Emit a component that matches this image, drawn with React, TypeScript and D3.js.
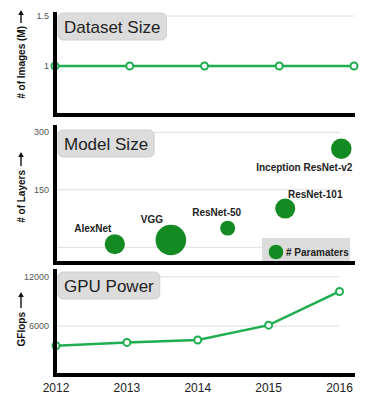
import React, { useEffect, useRef } from 'react';
import * as d3 from 'd3';

const years = [2012, 2013, 2014, 2015, 2016];
const datasetSize = [1, 1, 1, 1, 1];
const datasetTicks = [1, 1.5];
const models = ['AlexNet', 'VGG', 'ResNet-50', 'ResNet-101', 'Inception ResNet-v2'];
const modelYear = [2012.8, 2013.55, 2014.31, 2015.08, 2015.83];
const modelLayers = [8, 19, 50, 101, 257];
const modelParams = [60, 138, 33, 59, 62];
const layerTicks = [150, 300];
const layerGrid = [0, 150, 300];
const gpuGflops = [3600, 4000, 4300, 6100, 10200];
const gpuTicks = [6000, 12000];

// layout (not data)
const labelOffsets: [number, number][] = [[-22, -12], [-19, -17], [-11, -12], [30, -11], [-37, 22]];

const FONT = "'Liberation Sans', Arial, Helvetica, sans-serif";
const LINE = '#1fae4f';
const BUBBLE = '#148a22';

export default function App() {
  const ref = useRef<SVGSVGElement>(null);

  useEffect(() => {
    document.body.style.margin = '0';
    const svg = d3.select(ref.current);
    svg.selectAll('*').remove();
    svg.attr('font-family', FONT);

    const axisL = 55, axisR = 355;

    const x1 = d3.scaleLinear().domain([2012, 2016]).range([55, 354]);
    const y1 = d3.scaleLinear().domain([0.5, 1.5]).range([116, 16]);
    const y2 = d3.scaleLinear().domain([0, 300]).range([247.3, 132.3]);
    const r2 = d3.scaleSqrt().domain([0, 138]).range([0, 15.3]);
    const x3 = d3.scaleLinear().domain([2012, 2016]).range([56, 339.5]);
    const y3 = d3.scaleLinear().domain([0, 12000]).range([375.3, 276.7]);

    const grid = (vals: number[], y: d3.ScaleLinear<number, number>, x2: number) => {
      svg.append('g').selectAll('line').data(vals).join('line')
        .attr('x1', axisL).attr('x2', x2)
        .attr('y1', d => y(d)).attr('y2', d => y(d))
        .attr('stroke', '#dedede').attr('stroke-width', 1);
    };
    const ticks = (vals: number[], y: d3.ScaleLinear<number, number>) => {
      svg.append('g').selectAll('text').data(vals).join('text')
        .attr('x', 49).attr('y', d => y(d)).attr('dy', '0.35em')
        .attr('text-anchor', 'end').attr('font-size', 9).attr('fill', '#555')
        .text(d => String(d));
    };
    const title = (label: string, top: number) => {
      const g = svg.append('g');
      const rect = g.append('rect').attr('x', 58).attr('y', top).attr('height', 27)
        .attr('rx', 5).attr('fill', '#dcdcdc').attr('stroke', '#cfcfcf');
      const t = g.append('text').attr('x', 64).attr('y', top + 19.8)
        .attr('font-size', 17).attr('fill', '#222').text(label);
      const w = (t.node() as SVGTextElement).getComputedTextLength();
      rect.attr('width', w + 12);
    };
    const yLabel = (label: string, textEnd: number, arrowFrom: number, arrowTo: number) => {
      const cx = 21;
      svg.append('text')
        .attr('transform', `translate(${cx},${textEnd}) rotate(-90)`)
        .attr('text-anchor', 'start').attr('dy', '0.35em')
        .attr('font-size', 10).attr('font-weight', 'bold').attr('fill', '#111')
        .attr('text-anchor', 'end')
        .attr('x', 0)
        .text(label);
      // arrow
      svg.append('line').attr('x1', cx).attr('x2', cx).attr('y1', arrowFrom).attr('y2', arrowTo + 4)
        .attr('stroke', '#111').attr('stroke-width', 1.4);
      svg.append('path')
        .attr('d', `M${cx - 2.8},${arrowTo + 5} L${cx},${arrowTo} L${cx + 2.8},${arrowTo + 5} Z`)
        .attr('fill', '#111');
    };
    const axes = (top: number, bottom: number) => {
      svg.append('line').attr('x1', axisL).attr('x2', axisL).attr('y1', top).attr('y2', bottom + 2)
        .attr('stroke', '#000').attr('stroke-width', 4);
      svg.append('line').attr('x1', axisL - 2).attr('x2', axisR).attr('y1', bottom).attr('y2', bottom)
        .attr('stroke', '#000').attr('stroke-width', 4);
    };

    // ---------- Panel 1: Dataset Size ----------
    grid([1.5, 1], y1, 354);
    ticks(datasetTicks, y1);
    title('Dataset Size', 13);
    yLabel('# of Images (M)', 26, 23, 10);
    const line1 = d3.line<number>().x((_, i) => x1(years[i])).y(d => y1(d));
    svg.append('path').datum(datasetSize).attr('d', line1)
      .attr('fill', 'none').attr('stroke', LINE).attr('stroke-width', 2.5);
    svg.append('g').selectAll('circle').data(datasetSize).join('circle')
      .attr('cx', (_, i) => x1(years[i])).attr('cy', d => y1(d)).attr('r', 3.5)
      .attr('fill', '#fff').attr('stroke', LINE).attr('stroke-width', 2);
    axes(12, 115);

    // ---------- Panel 2: Model Size ----------
    grid(layerGrid, y2, 340);
    ticks(layerTicks, y2);
    title('Model Size', 130);
    yLabel('# of Layers', 170, 166, 152);
    // legend
    svg.append('rect').attr('x', 262).attr('y', 238).attr('width', 88).attr('height', 25)
      .attr('fill', '#dcdcdc');
    svg.append('circle').attr('cx', 276).attr('cy', 252).attr('r', 7.3).attr('fill', BUBBLE);
    svg.append('text').attr('x', 286).attr('y', 252).attr('dy', '0.35em')
      .attr('font-size', 10).attr('font-weight', 'bold').attr('fill', '#222').text('# Paramaters');
    const bubbles = models.map((m, i) => ({
      name: m, cx: x1(modelYear[i]), cy: y2(modelLayers[i]), r: r2(modelParams[i]), off: labelOffsets[i],
    }));
    svg.append('g').selectAll('circle').data(bubbles).join('circle')
      .attr('cx', d => d.cx).attr('cy', d => d.cy).attr('r', d => d.r).attr('fill', BUBBLE);
    svg.append('g').selectAll('text').data(bubbles).join('text')
      .attr('x', d => d.cx + d.off[0]).attr('y', d => d.cy + d.off[1])
      .attr('text-anchor', 'middle').attr('font-size', 10).attr('font-weight', 'bold').attr('fill', '#222')
      .text(d => d.name);
    axes(125, 263);

    // ---------- Panel 3: GPU Power ----------
    grid(gpuTicks, y3, 339);
    ticks(gpuTicks, y3);
    title('GPU Power', 272);
    yLabel('GFlops', 312, 308, 292);
    const line3 = d3.line<number>().x((_, i) => x3(years[i])).y(d => y3(d));
    svg.append('path').datum(gpuGflops).attr('d', line3)
      .attr('fill', 'none').attr('stroke', LINE).attr('stroke-width', 2.5);
    svg.append('g').selectAll('circle').data(gpuGflops).join('circle')
      .attr('cx', (_, i) => x3(years[i])).attr('cy', d => y3(d)).attr('r', 3.5)
      .attr('fill', '#fff').attr('stroke', LINE).attr('stroke-width', 2);
    axes(269, 375);
    svg.append('g').selectAll('text').data(years).join('text')
      .attr('x', d => x3(d)).attr('y', 392)
      .attr('text-anchor', 'middle').attr('font-size', 12).attr('fill', '#222')
      .text(d => String(d));
  }, []);

  return <svg ref={ref} width={384} height={400} style={{ display: 'block', background: '#fff' }} />;
}
